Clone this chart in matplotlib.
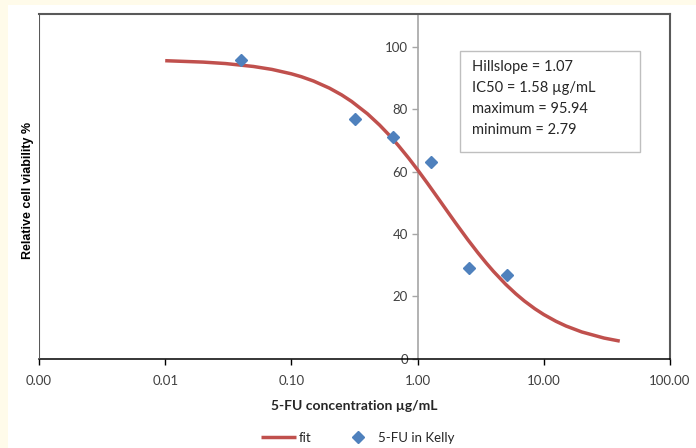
import numpy as np
import matplotlib
matplotlib.use('Agg')
import matplotlib.pyplot as plt
from matplotlib.patches import Rectangle
from matplotlib.ticker import FixedLocator, FuncFormatter, NullLocator

plt.rcParams['font.family'] = ['Lato', 'DejaVu Sans']

# measured points
conc = [0.04, 0.32, 0.64, 1.28, 2.56, 5.12]
viab = [95.7, 76.7, 71.0, 63.2, 29.1, 26.9]

# fit curve
fit_x = [0.01, 0.02, 0.03, 0.05, 0.07, 0.1, 0.12, 0.15, 0.2, 0.25, 0.3, 0.4,
         0.5, 0.6, 0.7, 0.85, 1.0, 1.2, 1.5, 1.75, 2.0, 2.5, 3.0, 3.5, 4.0,
         5.0, 6.0, 7.0, 8.5, 10.0, 12.5, 15.0, 20.0, 30.0, 40.0]
fit_y = [95.53, 95.08, 94.62, 93.68, 92.74, 91.32, 90.39, 89.0, 86.74, 84.57,
         82.47, 78.53, 74.89, 71.54, 68.46, 64.28, 60.54, 56.17, 50.66, 46.82,
         43.52, 38.15, 33.99, 30.66, 27.95, 23.81, 20.81, 18.53, 16.0, 14.15,
         11.98, 10.48, 8.57, 6.62, 5.64]

x_ticks = [0.001, 0.01, 0.1, 1, 10, 100]
y_ticks = [0, 20, 40, 60, 80, 100]
params = ['Hillslope = 1.07', 'IC50 = 1.58 \u00b5g/mL',
          'maximum = 95.94', 'minimum = 2.79']

red = '#C0504D'
blue = '#4F81BD'

fig = plt.figure(figsize=(6.96, 4.48), dpi=100)
fig.patch.set_facecolor('#FFFBEA')
fig.patches.append(Rectangle((8 / 696, 0), 1, 1 - 5 / 448, transform=fig.transFigure,
                             facecolor='white', edgecolor='none', zorder=-10))

ax = fig.add_axes([39 / 696, 1 - 358.7 / 448, 631 / 696, 344.7 / 448])
ax.set_xscale('log')
ax.set_xlim(0.001, 100)
ax.set_ylim(0, 110.5)

ax.plot(fit_x, fit_y, color=red, lw=2.5, label='fit', zorder=3,
        solid_capstyle='butt')
ax.plot(conc, viab, ls='none', marker='D', ms=6, color=blue, mec=blue,
        label='5-FU in Kelly', zorder=4)

# y axis sits at x = 1
ax.spines['left'].set_position(('data', 1))
ax.spines['left'].set_color('#A6A6A6')
ax.spines['left'].set_linewidth(1.2)
ax.axvline(0.001, color='#595959', lw=1.5, zorder=5)
for s in ['top', 'right']:
    ax.spines[s].set_color('#595959')
    ax.spines[s].set_linewidth(1.5)
ax.spines['bottom'].set_color('black')
ax.spines['bottom'].set_linewidth(1.1)

ax.xaxis.set_major_locator(FixedLocator(x_ticks))
ax.xaxis.set_minor_locator(NullLocator())
ax.xaxis.set_major_formatter(FuncFormatter(lambda v, p: '%.2f' % v))
ax.yaxis.set_major_locator(FixedLocator(y_ticks))
ax.tick_params(axis='x', direction='out', length=4, width=1, color='black',
               labelsize=9.5, labelcolor='#404040', pad=8)
ax.tick_params(axis='y', direction='out', length=4, width=1, color='#A6A6A6',
               labelsize=9.5, labelcolor='#404040', pad=3)

ax.set_xlabel('5-FU concentration \u00b5g/mL', fontsize=10, fontweight='bold',
              color='#262626', labelpad=9)
fig.text(28 / 696, 1 - 190 / 448, 'Relative cell viability %', rotation=90,
         ha='center', va='center', fontsize=9, fontweight='bold',
         family=['Liberation Sans Narrow', 'Liberation Sans', 'DejaVu Sans'])

# parameter box
ax.add_patch(Rectangle((0.667, 0.599), 0.285, 0.294, transform=ax.transAxes,
                       facecolor='white', edgecolor='#BFBFBF', lw=1, zorder=6))
ax.text(0.686, 0.755, '\n'.join(params), transform=ax.transAxes, ha='left',
        va='center', fontsize=10.5, linespacing=1.65, color='#262626', zorder=7)

fig.legend(loc='center', bbox_to_anchor=(358 / 696, 1 - 438 / 448), ncol=2,
           frameon=False, fontsize=9.5, handlelength=2.6, columnspacing=2.2,
           handletextpad=0.25, labelcolor='#262626')

fig.savefig('out.png', dpi=100)
